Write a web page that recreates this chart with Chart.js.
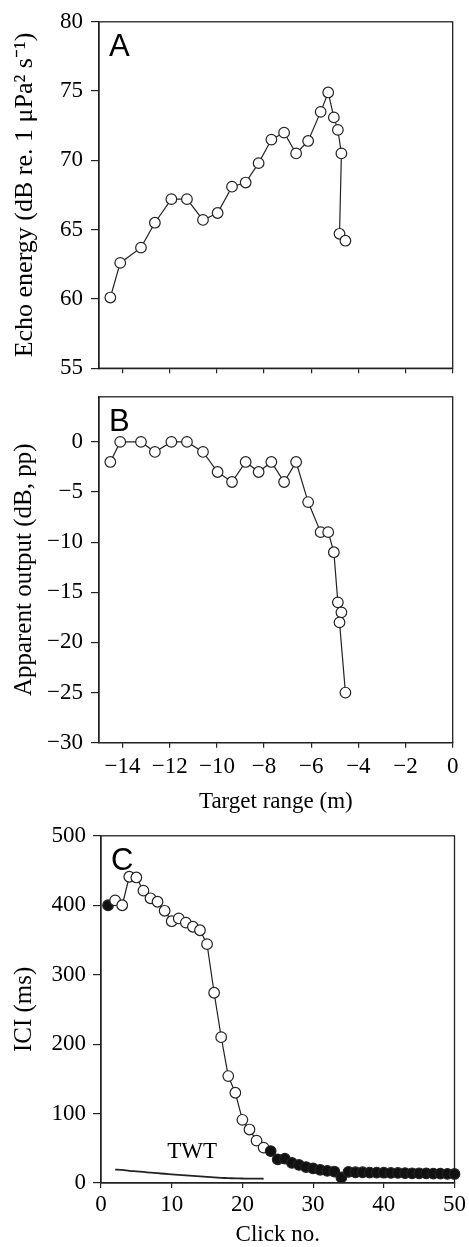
<!DOCTYPE html>
<html>
<head>
<meta charset="utf-8">
<script src="https://cdn.jsdelivr.net/npm/chart.js@4.4.1/dist/chart.umd.min.js"></script>
<style>
  html, body { margin: 0; padding: 0; background: #fff; }
  #wrap { position: relative; width: 469px; height: 1247px; }
  canvas { position: absolute; left: 0; }
</style>
</head>
<body>
<div id="wrap">
  <canvas id="chartA" width="469" height="390" style="top:0px"></canvas>
  <canvas id="chartB" width="469" height="440" style="top:375px"></canvas>
  <canvas id="chartC" width="469" height="432" style="top:815px"></canvas>
</div>
<script>
// panels A and B share the target range (m)
const targetRange = [-14.52, -14.1, -13.22, -12.63, -11.93, -11.27, -10.59, -9.97, -9.36, -8.78, -8.23,
  -7.69, -7.15, -6.64, -6.13, -5.6, -5.28, -5.04, -4.87, -4.72, -4.8, -4.55];
const echoEnergy = [60.1, 62.6, 63.7, 65.5, 67.2, 67.2, 65.7, 66.2, 68.1, 68.4, 69.8,
  71.5, 72.0, 70.5, 71.4, 73.5, 74.9, 73.1, 72.2, 70.5, 64.7, 64.2];
const apparentOutput = [-2, 0, 0, -1, 0, 0, -1, -3, -4, -2, -3,
  -2, -4, -2, -6, -9, -9, -11, -16, -17, -18, -25];

// panel C
const clickNo = [1, 2, 3, 4, 5, 6, 7, 8, 9, 10, 11, 12, 13, 14, 15, 16, 17, 18, 19, 20, 21, 22, 23, 24, 25,
  26, 27, 28, 29, 30, 31, 32, 33, 34, 35, 36, 37, 38, 39, 40, 41, 42, 43, 44, 45, 46, 47, 48, 49, 50];
const ici = [400, 407, 400, 441, 440, 421, 410, 405, 392, 377, 381, 375, 369, 364, 344, 274, 210, 154, 130, 91, 77, 61, 51, 46, 34,
  35, 29, 26, 23, 21, 19, 17.5, 16.5, 8, 16, 15.5, 15.5, 15, 15, 14.8, 14.5, 14.5, 14.2, 14, 14, 13.8, 13.5, 13.5, 13.2, 13];
const openClicks = [2, 3, 4, 5, 6, 7, 8, 9, 10, 11, 12, 13, 14, 15, 16, 17, 18, 19, 20, 21, 22, 23];
const twtClicks = [2, 3, 4, 5, 6, 7, 8, 9, 10, 11, 12, 13, 14, 15, 16, 17, 18, 19, 20, 21, 22, 23];
const twt = [19.4, 18.8, 17.6, 16.8, 15.9, 15.0, 14.1, 13.3, 12.5, 11.7, 11.0,
  10.3, 9.5, 8.9, 8.2, 7.5, 7.0, 6.7, 6.5, 6.3, 6.4, 6.1];

const serif = 'Liberation Serif';
const ink = '#222';
const minus = v => String(v).replace('-', '\u2212');

// box round the plot area plus the panel letter
const framePlugin = {
  id: 'frame',
  beforeDatasetsDraw(chart, args, opts) {
    const { ctx, chartArea: a } = chart;
    ctx.save();
    ctx.strokeStyle = ink;
    ctx.lineWidth = 1.3;
    ctx.strokeRect(a.left, a.top, a.right - a.left, a.bottom - a.top);
    ctx.fillStyle = '#000';
    ctx.font = '31px "Liberation Sans"';
    ctx.textBaseline = 'alphabetic';
    ctx.fillText(opts.letter, a.left + 10, a.top + 34);
    ctx.restore();
  }
};

const twtLabel = {
  id: 'twtLabel',
  afterDatasetsDraw(chart) {
    const { ctx, scales } = chart;
    ctx.save();
    ctx.fillStyle = '#000';
    ctx.font = '23px "' + serif + '"';
    ctx.textAlign = 'center';
    ctx.textBaseline = 'middle';
    ctx.fillText('TWT', scales.x.getPixelForValue(12.9), scales.y.getPixelForValue(44));
    ctx.restore();
  }
};

function axis(o) {
  return {
    type: 'linear',
    min: o.min, max: o.max,
    afterFit: s => { if (o.width) s.width = o.width; if (o.height) s.height = o.height; },
    ticks: {
      stepSize: o.step, includeBounds: false,
      font: { family: serif, size: 23 }, color: '#000', padding: o.pad,
      callback: o.noLabels ? () => '' : minus
    },
    grid: { drawOnChartArea: false, tickLength: o.tick, color: ink, lineWidth: 1.2 },
    border: { color: ink, width: 1.3 },
    title: {
      display: !!o.title, text: o.title || '', color: '#000',
      font: { family: serif, size: o.titleSize || 23, lineHeight: 1 },
      padding: o.titlePad || 0
    }
  };
}

function options(pad, x, y, letter) {
  return {
    responsive: false,
    animation: false,
    layout: { padding: pad },
    plugins: { legend: { display: false }, tooltip: { enabled: false }, frame: { letter } },
    scales: { x: axis(x), y: axis(y) }
  };
}

const pts = (xs, ys) => xs.map((x, i) => ({ x, y: ys[i] }));
const openMarkers = {
  showLine: true, borderColor: ink, borderWidth: 1.2,
  pointRadius: 5.3, pointBorderWidth: 1.2,
  pointBackgroundColor: '#fff', pointBorderColor: ink, clip: false
};

new Chart(document.getElementById('chartA'), {
  type: 'scatter',
  data: { datasets: [{ data: pts(targetRange, echoEnergy), ...openMarkers }] },
  options: options({ top: 17.6, right: 16.3, left: 0, bottom: 0 },
    { min: -15, max: 0, step: 2, tick: 5, pad: 4, height: 19.4, noLabels: true },
    { min: 55, max: 80, step: 5, tick: 8, pad: 8, width: 99, titleSize: 26,
      title: 'Echo energy (dB re. 1 \u03bcPa\u00b2 s\u207b\u00b9)', titlePad: { top: 12, bottom: 0 } }, 'A'),
  plugins: [framePlugin]
});

new Chart(document.getElementById('chartB'), {
  type: 'scatter',
  data: { datasets: [{ data: pts(targetRange, apparentOutput), ...openMarkers }] },
  options: options({ top: 14.3, right: 16.3, left: 0, bottom: 0 },
    { min: -15, max: 0, step: 2, tick: 5, pad: 5, height: 72.3,
      title: 'Target range (m)', titlePad: { top: 0, bottom: 2 } },
    { min: -30, max: 4.5, step: 5, tick: 8, pad: 8, width: 99, titleSize: 25,
      title: 'Apparent output (dB, pp)', titlePad: { top: 12, bottom: 0 } }, 'B'),
  plugins: [framePlugin]
});

new Chart(document.getElementById('chartC'), {
  type: 'scatter',
  data: {
    datasets: [
      { data: pts(clickNo, ici), ...openMarkers,
        pointBackgroundColor: c => openClicks.includes(clickNo[c.dataIndex]) ? '#fff' : '#111' },
      { data: pts(twtClicks, twt), showLine: true, borderColor: ink, borderWidth: 1.8,
        pointRadius: 0, tension: 0.3 }
    ]
  },
  options: options({ top: 14.3, right: 14, left: 0, bottom: 0 },
    { min: 0, max: 50, step: 10, tick: 5, pad: 3, height: 64,
      title: 'Click no.', titlePad: { top: 0, bottom: 0.5 } },
    { min: 0, max: 500, step: 100, tick: 8, pad: 7, width: 101, titleSize: 25,
      title: 'ICI (ms)', titlePad: { top: 12, bottom: 0 } }, 'C'),
  plugins: [framePlugin, twtLabel]
});
</script>
</body>
</html>
